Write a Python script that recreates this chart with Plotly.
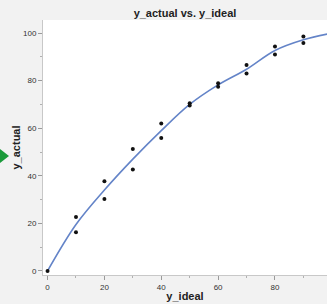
import plotly.graph_objects as go

y_ideal = [0, 10, 10, 20, 20, 30, 30, 40, 40, 50, 50, 60, 60, 70, 70, 80, 80, 90, 90]
y_actual = [0, 22.7, 16.3, 37.7, 30.2, 51.3, 42.7, 62.0, 55.9, 70.5, 69.6,
            78.9, 77.4, 86.6, 83.0, 94.4, 91.0, 98.6, 95.8]

fit_x = [0, 10, 20, 30, 40, 50, 60, 70, 80, 90, 100]
fit_y = [0, 19.5, 34.0, 47.0, 59.0, 70.0, 78.2, 84.8, 92.7, 97.2, 100.0]

tick_vals = [0, 20, 40, 60, 80, 100]

font = "Liberation Sans, Arial, sans-serif"

W, H = 327, 304
L, R, T, B = 43, 0, 20, 29
pw, ph = W - L - R, H - T - B

def px(xp):
    return (xp - L) / pw

def py(yp):
    return (H - B - yp) / ph

fig = go.Figure()
fig.add_trace(go.Scatter(x=fit_x, y=fit_y, mode="lines",
                         line=dict(color="#6484c8", width=1.6, shape="spline", smoothing=1.0),
                         hoverinfo="skip", showlegend=False))
fig.add_trace(go.Scatter(x=y_ideal, y=y_actual, mode="markers",
                         marker=dict(color="#111111", size=4), showlegend=False))

axis_common = dict(
    showgrid=False, zeroline=False, showline=True, linecolor="#c8c8c8", linewidth=1,
    ticks="outside", ticklen=4, tickcolor="#9a9a9a", tickwidth=1,
    tickfont=dict(family=font, size=8, color="#333333"),
    minor=dict(ticks="outside", ticklen=2, tickcolor="#b0b0b0", dtick=10),
    tickvals=tick_vals, automargin=False,
)

fig.update_layout(
    width=W, height=H,
    margin=dict(l=L, r=R, t=T, b=B),
    paper_bgcolor="#f2f2f2", plot_bgcolor="white",
    title=dict(text="<b>y_actual vs. y_ideal</b>", x=(L + W) / 2 / W, xanchor="center",
               y=1 - 13 / H, yanchor="middle",
               font=dict(family=font, size=11, color="#222222")),
    xaxis=dict(axis_common, range=[-1.6, 98.3],
               title=dict(text="<b>y_ideal</b>", font=dict(family=font, size=11, color="#222222"), standoff=1)),
    yaxis=dict(axis_common, range=[-1.7, 105.5],
               title=dict(text="<b>y_actual</b>", font=dict(family=font, size=11, color="#222222"), standoff=0)),
    shapes=[dict(type="path", xref="paper", yref="paper",
                 path=f"M {px(0)} {py(149)} L {px(9)} {py(156)} L {px(0)} {py(163)} Z",
                 fillcolor="#1a9a3a", line=dict(width=0))],
)

fig.write_html("out.html", config={"displayModeBar": False},
               post_script="document.body.style.margin='0';document.body.style.overflow='hidden';")
